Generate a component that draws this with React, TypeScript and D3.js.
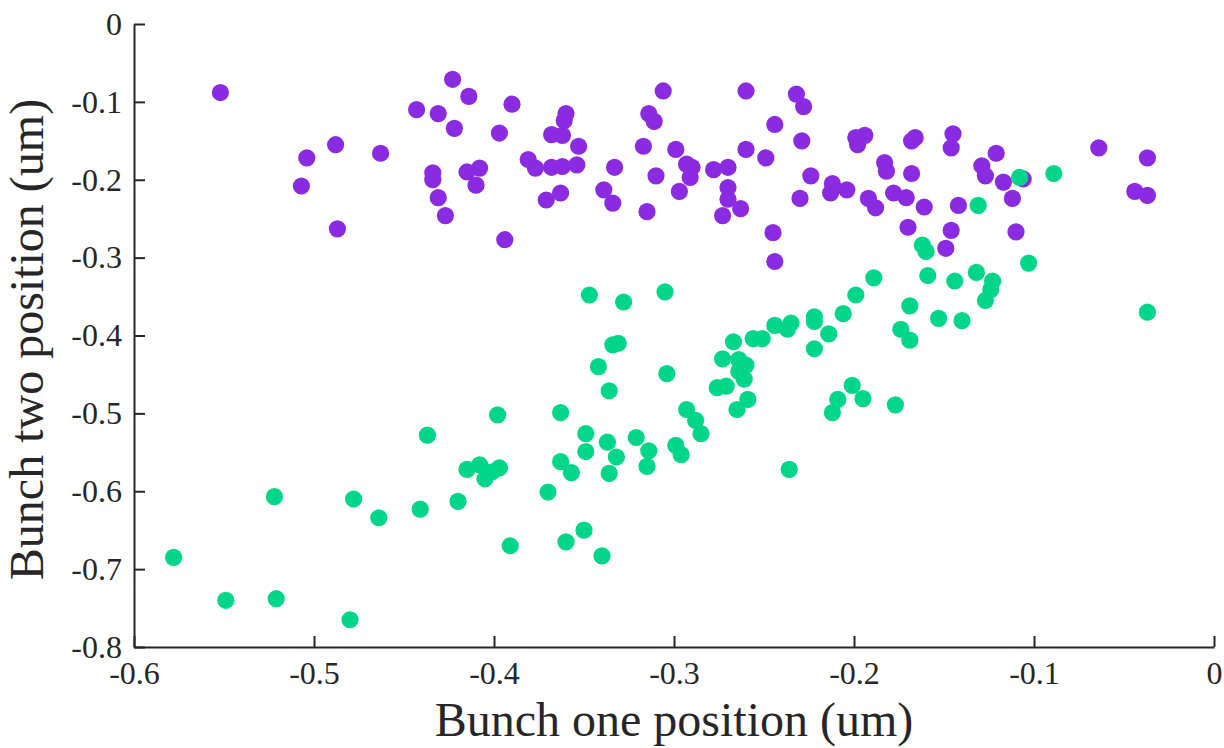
import React, { useEffect, useRef } from "react";
import * as d3 from "d3";

// Bunch one position (um) / Bunch two position (um)
const purpleX = [
  -0.552, -0.504, -0.488, -0.507, -0.463, -0.487, -0.443, -0.423, -0.431, -0.414,
  -0.422, -0.390, -0.397, -0.434, -0.434, -0.415, -0.408, -0.410, -0.431, -0.427,
  -0.394, -0.306, -0.260, -0.232, -0.228, -0.360, -0.361, -0.368, -0.362, -0.353,
  -0.314, -0.311, -0.244, -0.317, -0.299, -0.260, -0.229, -0.249, -0.199, -0.194,
  -0.198, -0.381, -0.377, -0.368, -0.362, -0.354, -0.333, -0.310, -0.293, -0.290,
  -0.291, -0.278, -0.270, -0.270, -0.270, -0.263, -0.273, -0.339, -0.334, -0.363,
  -0.371, -0.315, -0.297, -0.230, -0.224, -0.212, -0.213, -0.204, -0.192, -0.188,
  -0.183, -0.182, -0.245, -0.244, -0.168, -0.166, -0.145, -0.146, -0.121, -0.129,
  -0.127, -0.117, -0.106, -0.064, -0.037, -0.044, -0.037, -0.168, -0.178, -0.171,
  -0.161, -0.142, -0.112, -0.170, -0.146, -0.110, -0.149,
];
const purpleY = [
  -0.088, -0.172, -0.155, -0.208, -0.166, -0.263, -0.110, -0.071, -0.115, -0.093,
  -0.134, -0.103, -0.140, -0.191, -0.200, -0.190, -0.185, -0.207, -0.223, -0.246,
  -0.277, -0.086, -0.086, -0.090, -0.106, -0.115, -0.124, -0.142, -0.143, -0.157,
  -0.115, -0.125, -0.129, -0.157, -0.161, -0.161, -0.150, -0.172, -0.146, -0.143,
  -0.155, -0.174, -0.185, -0.184, -0.183, -0.181, -0.184, -0.195, -0.180, -0.184,
  -0.197, -0.187, -0.184, -0.210, -0.225, -0.237, -0.246, -0.213, -0.230, -0.217,
  -0.226, -0.241, -0.215, -0.224, -0.195, -0.205, -0.217, -0.213, -0.224, -0.236,
  -0.178, -0.189, -0.268, -0.305, -0.150, -0.146, -0.141, -0.159, -0.166, -0.182,
  -0.195, -0.203, -0.199, -0.159, -0.172, -0.215, -0.220, -0.192, -0.217, -0.223,
  -0.235, -0.233, -0.224, -0.261, -0.265, -0.267, -0.288,
];
const greenX = [
  -0.578, -0.549, -0.521, -0.522, -0.480, -0.478, -0.464, -0.441, -0.437, -0.420,
  -0.415, -0.408, -0.405, -0.401, -0.397, -0.398, -0.391, -0.370, -0.360, -0.350,
  -0.340, -0.363, -0.357, -0.336, -0.315, -0.363, -0.349, -0.349, -0.337, -0.332,
  -0.321, -0.314, -0.299, -0.296, -0.293, -0.288, -0.285, -0.336, -0.342, -0.334,
  -0.331, -0.304, -0.347, -0.328, -0.305, -0.276, -0.271, -0.265, -0.259, -0.273,
  -0.264, -0.260, -0.264, -0.261, -0.267, -0.256, -0.251, -0.244, -0.235, -0.237,
  -0.236, -0.222, -0.222, -0.214, -0.222, -0.206, -0.199, -0.189, -0.201, -0.195,
  -0.209, -0.212, -0.177, -0.174, -0.169, -0.169, -0.153, -0.140, -0.162, -0.160,
  -0.159, -0.144, -0.132, -0.123, -0.124, -0.127, -0.131, -0.108, -0.089, -0.103,
  -0.037,
];
const greenY = [
  -0.685, -0.740, -0.738, -0.607, -0.765, -0.610, -0.634, -0.623, -0.528, -0.613,
  -0.572, -0.566, -0.584, -0.575, -0.570, -0.502, -0.670, -0.601, -0.665, -0.650,
  -0.683, -0.562, -0.576, -0.577, -0.568, -0.499, -0.526, -0.549, -0.537, -0.556,
  -0.531, -0.548, -0.541, -0.553, -0.495, -0.509, -0.526, -0.471, -0.440, -0.412,
  -0.410, -0.449, -0.348, -0.357, -0.344, -0.467, -0.465, -0.495, -0.482, -0.430,
  -0.431, -0.438, -0.446, -0.456, -0.408, -0.404, -0.404, -0.387, -0.384, -0.392,
  -0.572, -0.376, -0.382, -0.398, -0.417, -0.372, -0.348, -0.326, -0.464, -0.481,
  -0.482, -0.499, -0.489, -0.392, -0.406, -0.362, -0.378, -0.381, -0.284, -0.292,
  -0.323, -0.330, -0.319, -0.330, -0.341, -0.355, -0.233, -0.197, -0.192, -0.307,
  -0.370,
];
const xTicks = [-0.6, -0.5, -0.4, -0.3, -0.2, -0.1, 0];
const yTicks = [0, -0.1, -0.2, -0.3, -0.4, -0.5, -0.6, -0.7, -0.8];

const W = 1224;
const H = 748;
const M = { left: 134, right: 10, top: 24, bottom: 101 };
const FONT = "'Liberation Serif', 'Times New Roman', serif";

const fmt = (v: number) => (v === 0 ? "0" : v.toFixed(1));

export default function App() {
  const xAxisRef = useRef<SVGGElement>(null);
  const yAxisRef = useRef<SVGGElement>(null);

  const x = d3.scaleLinear().domain([-0.6, 0]).range([M.left, W - M.right]);
  const y = d3.scaleLinear().domain([-0.8, 0]).range([H - M.bottom, M.top]);

  const purple = purpleX.map((v, i) => [v, purpleY[i]]);
  const green = greenX.map((v, i) => [v, greenY[i]]);

  useEffect(() => {
    const xa = d3
      .axisBottom(x)
      .tickValues(xTicks)
      .tickFormat((d) => fmt(d as number))
      .tickSizeInner(-11)
      .tickSizeOuter(0)
      .tickPadding(14);
    const ya = d3
      .axisLeft(y)
      .tickValues(yTicks)
      .tickFormat((d) => fmt(d as number))
      .tickSizeInner(-11)
      .tickSizeOuter(0)
      .tickPadding(12);
    const gx = d3.select(xAxisRef.current!);
    gx.call(xa as any);
    const gy = d3.select(yAxisRef.current!);
    gy.call(ya as any);
    [gx, gy].forEach((g) => {
      g.attr("font-family", FONT).attr("font-size", 32);
      g.selectAll(".domain").attr("stroke", "#262626").attr("stroke-width", 2);
      g.selectAll(".tick line").attr("stroke", "#262626").attr("stroke-width", 2);
      g.selectAll(".tick text")
        .attr("fill", "#262626")
        .style("font-family", FONT)
        .style("font-size", "32px");
    });
  }, []);

  return (
    <svg
      width={W}
      height={H}
      style={{ position: "absolute", left: 0, top: 0, background: "#fff" }}
    >
      <g>
        {purple.map((p, i) => (
          <circle key={"p" + i} cx={x(p[0])} cy={y(p[1])} r={8.6} fill="#8a2be2" />
        ))}
        {green.map((p, i) => (
          <circle key={"g" + i} cx={x(p[0])} cy={y(p[1])} r={8.6} fill="#00d68a" />
        ))}
      </g>
      <g ref={xAxisRef} transform={`translate(0,${H - M.bottom})`} />
      <g ref={yAxisRef} transform={`translate(${M.left},0)`} />
      <text
        x={(M.left + W - M.right) / 2}
        y={736}
        textAnchor="middle"
        fontFamily={FONT}
        fontSize={48}
        fill="#262626"
      >
        Bunch one position (um)
      </text>
      <text
        transform={`translate(43,${(M.top + H - M.bottom) / 2 + 4}) rotate(-90)`}
        textAnchor="middle"
        fontFamily={FONT}
        fontSize={48}
        fill="#262626"
      >
        Bunch two position (um)
      </text>
    </svg>
  );
}
